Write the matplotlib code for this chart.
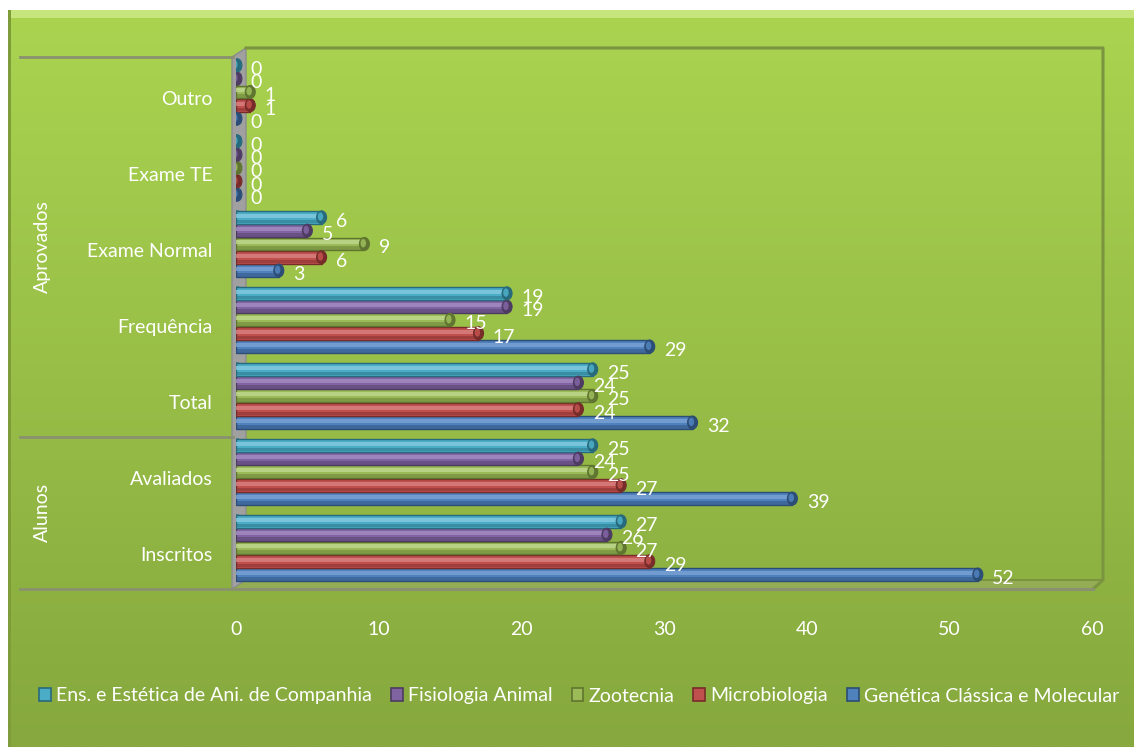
import numpy as np
import matplotlib.pyplot as plt
from matplotlib.patches import Rectangle, Ellipse, Polygon

plt.rcParams['font.family'] = ['Lato', 'DejaVu Sans']

categorias = ['Inscritos', 'Avaliados', 'Total', 'Frequência', 'Exame Normal', 'Exame TE', 'Outro']
series = ['Genética Clássica e Molecular', 'Microbiologia', 'Zootecnia',
          'Fisiologia Animal', 'Ens. e Estética de Ani. de Companhia']
genetica = [52, 39, 32, 29, 3, 0, 0]
microbiologia = [29, 27, 24, 17, 6, 0, 1]
zootecnia = [27, 25, 25, 15, 9, 0, 1]
fisiologia = [26, 24, 24, 19, 5, 0, 0]
ens_estetica = [27, 25, 25, 19, 6, 0, 0]
valores = [genetica, microbiologia, zootecnia, fisiologia, ens_estetica]

cores = ['#4f81bd', '#c0504d', '#9bbb59', '#8064a2', '#4bacc6']
bordas = ['#2c4d75', '#772c2a', '#5f7530', '#4d3b62', '#276a7c']
claros = ['#7ba3d6', '#d98381', '#c0d88f', '#a58dc4', '#85cbe0']

W, H = 1134, 747
fig = plt.figure(figsize=(W / 100, H / 100), dpi=100)
fig.patch.set_facecolor('white')

# fundo com degradê
bg = fig.add_axes([0, 0, 1, 1], zorder=0)
bg.set_xlim(0, W)
bg.set_ylim(H, 0)
bg.axis('off')
top = np.array([170, 212, 80]) / 255
bot = np.array([134, 168, 62]) / 255
grad = np.linspace(0, 1, 256)[:, None, None]
img = top * (1 - grad) + bot * grad
bg.imshow(img, extent=[8, W, H, 10], aspect='auto', interpolation='bilinear')
bg.add_patch(Rectangle((8, 10), W - 8, 8, color='#c6e57c', lw=0))
bg.add_patch(Rectangle((8, 10), 3, H - 10, color='#7e9c3a', lw=0))

# paredes do gráfico 3D
bg.add_patch(Polygon([[232, 57], [246, 48], [246, 580], [232, 589]],
                     closed=True, fc='#a0a0a0', ec='#8c8c8c', lw=1))
bg.add_patch(Polygon([[236, 589], [246, 580], [1103, 580], [1093, 589]],
                     closed=True, fc='#94ad55', ec='none'))
bg.plot([246, 1103, 1103, 1093], [48, 48, 580, 589], color='#7a9440', lw=2.2)
bg.plot([246, 1103], [580, 580], color='#7a9440', lw=1.5)
bg.plot([236, 1093], [589, 589], color='#8a9170', lw=2.2)
for yl in [57, 437, 589]:
    bg.plot([20, 233], [yl, yl], color='#8a9170', lw=2)

bg.text(42, 247, 'Aprovados', rotation=90, ha='center', va='center', color='white', fontsize=14)
bg.text(42, 512, 'Alunos', rotation=90, ha='center', va='center', color='white', fontsize=14)

# barras
ax = fig.add_axes([236 / W, (H - 589) / H, (1092 - 236) / W, (589 - 57) / H], zorder=1)
ax.patch.set_alpha(0)
ax.set_xlim(0, 60)
ax.set_ylim(-0.5, 6.5)
for s in ax.spines.values():
    s.set_visible(False)

y = np.arange(len(categorias))
passo = 0.175
alt = 0.17
capw = 0.7
for k, vals in enumerate(valores):
    yk = y + 0.04 + (k - 2) * passo
    ax.barh(yk, vals, height=alt, color=cores[k], edgecolor=bordas[k], lw=1.0, zorder=3)
    ax.barh(yk + alt * 0.12, vals, height=alt * 0.3, color=claros[k], lw=0, zorder=4, alpha=0.8)
    ax.barh(yk - alt * 0.32, vals, height=alt * 0.28, color=bordas[k], lw=0, zorder=4, alpha=0.45)
    for yy, v in zip(yk, vals):
        ax.add_patch(Ellipse((v, yy), capw, alt, fc=bordas[k], ec=bordas[k], lw=0.8, zorder=5))
        ax.add_patch(Ellipse((v - 0.08, yy + 0.01), capw * 0.55, alt * 0.65, fc=cores[k], lw=0, zorder=6, alpha=0.9))
        ax.add_patch(Ellipse((0.1, yy), capw * 0.9, alt, fc=cores[k], ec=bordas[k], lw=0.8, zorder=2))
        ax.text(v + 1.0, yy - 0.05, str(v), color='white', fontsize=14, va='center', ha='left', zorder=7)

ax.set_yticks(y - 0.04)
ax.set_yticklabels(categorias, color='white', fontsize=14)
ax.set_xticks(np.arange(0, 61, 10))
ax.tick_params(axis='x', colors='white', labelsize=14, length=0, pad=23)
ax.tick_params(axis='y', length=0, pad=17)

handles = [Rectangle((0, 0), 1, 1, fc=cores[k], ec=bordas[k], lw=1.2) for k in range(4, -1, -1)]
fig.legend(handles, series[::-1], loc='center', bbox_to_anchor=(579 / W, 1 - 696 / H), ncol=5,
           frameon=False, fontsize=14, labelcolor='white', handlelength=0.6, handleheight=0.6,
           handletextpad=0.25, columnspacing=1.0)

fig.savefig('out.png', dpi=100)
